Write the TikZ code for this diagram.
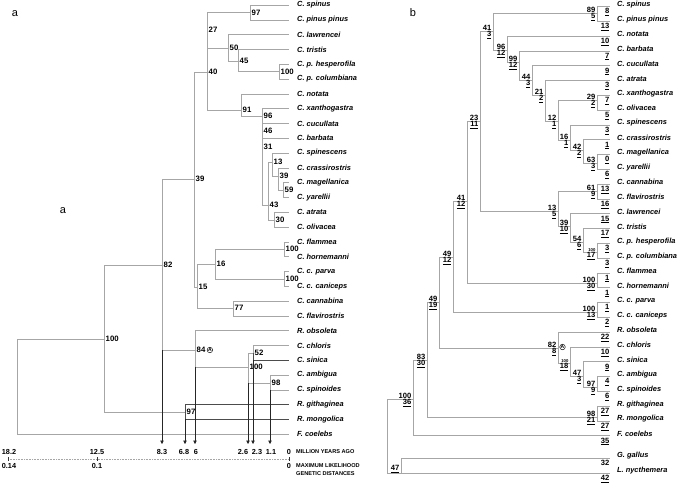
\documentclass[tikz,border=0pt]{standalone}
\usepackage{fontspec}
\setmainfont{Liberation Sans}
\usetikzlibrary{arrows.meta}
\newcommand\taxfont{\fontsize{7.4}{8}\selectfont\bfseries\itshape}
\newcommand\bsfont{\fontsize{7.6}{8}\selectfont\bfseries}
\tikzset{
  branch/.style={draw=gray!70, line width=0.6pt},
  darkbranch/.style={draw=black!70, line width=0.6pt},
  taxon/.style={anchor=west, inner sep=0pt, font=\taxfont},
  bsa/.style={anchor=west, inner sep=0.5pt, font=\fontsize{7.8}{8}\selectfont\bfseries},
  bstop/.style={anchor=south east, inner sep=0.4pt, font=\bsfont},
  bsbot/.style={anchor=north east, inner sep=0.4pt, font=\bsfont},
  blen/.style={anchor=north east, inner sep=0.4pt, font=\bsfont},
  tinynum/.style={anchor=south east, inner sep=0.4pt, font=\fontsize{4.2}{4}\selectfont\bfseries},
  circA/.style={circle, draw, anchor=west, line width=0.45pt, inner sep=0.2pt, font=\fontsize{5}{5}\selectfont\bfseries},
  timearrow/.style={draw=black!85, line width=0.6pt, -{Triangle[length=3.5pt,width=3.5pt]}},
  axislbl/.style={inner sep=0.5pt, font=\fontsize{7.3}{8}\selectfont\bfseries},
  axisname/.style={anchor=west, inner sep=0pt, font=\fontsize{5.6}{6}\selectfont\bfseries},
  axisline/.style={draw=gray!70, densely dotted, line width=0.6pt},
  axtick/.style={draw=black!80, line width=0.5pt},
  panel/.style={inner sep=0pt, font=\fontsize{11}{12}\selectfont},
}

\begin{document}
\begin{tikzpicture}[x=1pt,y=-1pt]
  \useasboundingbox (0,0) rectangle (685,482);

  % Panel letters
  \node[panel] (pa) at (15,14) {a};
  \node[panel] (pam) at (63,211) {a};
  \node[panel] (pb) at (413,13) {b};

  % ===== Tree a =====
  % Taxa
  \foreach \nm [count=\i from 0] in {C. spinus, C. pinus pinus, C. lawrencei, C. tristis,
      C. p. hesperofila, C. p. columbiana, C. notata, C. xanthogastra, C. cucullata,
      C. barbata, C. spinescens, C. crassirostris, C. magellanica, C. yarellii, C. atrata,
      C. olivacea, C. flammea, C. hornemanni, C. c. parva, C. c. caniceps, C. cannabina,
      C. flavirostris, R. obsoleta, C. chloris, C. sinica, C. ambigua, C. spinoides,
      R. githaginea, R. mongolica, F. coelebs}{
    \node[taxon] (spa\i) at (297,5+14.8*\i) {\nm};
    \coordinate (ta\i) at ([xshift=-8pt]spa\i.west);
  }

  % Internal nodes
  \coordinate (a97) at (250,12.4);
  \coordinate (a100p) at (279,71.6);
  \coordinate (a45) at (238,61);
  \coordinate (a50) at (228,48);
  \coordinate (a27) at (207,30);
  \coordinate (a40) at (207,72);
  \coordinate (a91) at (241,110);
  \coordinate (a96) at (262,116);
  \coordinate (a46) at (262,131);
  \coordinate (a31) at (262,147);
  \coordinate (a43) at (268,205);
  \coordinate (a13) at (272,162);
  \coordinate (a39) at (278,176);
  \coordinate (a59) at (283,190);
  \coordinate (a30) at (274,220);
  \coordinate (a100f) at (284,249);
  \coordinate (a100c) at (284,279);
  \coordinate (a16) at (215,264);
  \coordinate (a77) at (233,308);
  \coordinate (a15) at (197,287);
  \coordinate (a39b) at (194,179);
  \coordinate (a52) at (253,353);
  \coordinate (a98) at (270,383);
  \coordinate (a100d) at (248,367);
  \coordinate (a84) at (195,350);
  \coordinate (a82) at (162,265);
  \coordinate (a97b) at (185,412);
  \coordinate (a100) at (104,339);
  \coordinate (aroot) at (17,387);

  % Branches
  \foreach \p/\c in {a97/ta0, a97/ta1, a100p/ta4, a100p/ta5, a45/ta3, a45/a100p,
      a50/ta2, a50/a45, a27/a97, a27/a50, a40/a27, a40/a91, a91/ta6, a91/a96,
      a96/ta7, a96/a46, a46/ta8, a46/a31, a31/ta9, a31/a43, a43/a13, a43/a30,
      a13/ta10, a13/a39, a39/ta11, a39/a59, a59/ta12, a59/ta13, a30/ta14, a30/ta15,
      a100f/ta16, a100f/ta17, a100c/ta18, a100c/ta19, a16/a100f, a16/a100c,
      a77/ta20, a77/ta21, a15/a16, a15/a77, a39b/a40, a39b/a15, a52/ta23,
      a100d/a52, a100d/a98, a98/ta25, a98/ta26, a84/ta22, a84/a100d,
      a82/a39b, a82/a84, a100/a82, a100/a97b, aroot/a100, aroot/ta29}
    \draw[branch] (\p) |- (\c);
  \foreach \p/\c in {a52/ta24, a97b/ta27, a97b/ta28}
    \draw[darkbranch] (\p) |- (\c);

  % Bootstrap values
  \foreach \n/\t in {a97/97, a100p/100, a45/45, a50/50, a27/27, a40/40, a91/91,
      a96/96, a46/46, a31/31, a43/43, a13/13, a39/39, a59/59, a30/30, a100f/100,
      a100c/100, a16/16, a77/77, a15/15, a39b/39, a52/52, a98/98, a100d/100,
      a84/84, a82/82, a97b/97, a100/100}
    \node[bsa] (lab\n) at ([xshift=1pt]\n) {\t};
  \node[circA] (caa) at ([xshift=0.8pt]laba84.east) {A};

  % Dating arrows
  \coordinate (tipy) at (0,444);
  \draw[timearrow] (a82 |- a84) -- (a82 |- tipy);
  \draw[timearrow] (a97b |- ta28) -- (a97b |- tipy);
  \draw[timearrow] (a84 |- a100d) -- (a84 |- tipy);
  \draw[timearrow] (a100d |- a98) -- (a100d |- tipy);
  \draw[timearrow] (a52 |- ta24) -- (a52 |- tipy);
  \draw[timearrow] (a98 |- ta26) -- (a98 |- tipy);

  % Time / distance scale
  \coordinate (axl) at (8,459);
  \coordinate (axm) at (97,459);
  \coordinate (axr) at (289,459);
  \draw[axisline] (axl) -- (axr);
  \foreach \c in {axl, axm, axr}
    \draw[axtick] ([yshift=2pt]\c) -- ([yshift=-2pt]\c);
  \node[axislbl] (t182) at (9,452) {18.2};
  \node[axislbl] (t125) at (97,452) {12.5};
  \node[axislbl] (t83) at (162,452) {8.3};
  \node[axislbl] (t68) at (184,452) {6.8};
  \node[axislbl] (t6) at (196,452) {6};
  \node[axislbl] (t26) at (243,452) {2.6};
  \node[axislbl] (t23) at (257,452) {2.3};
  \node[axislbl] (t11) at (271,452) {1.1};
  \node[axislbl] (t0) at (289,452) {0};
  \node[axislbl] (d014) at (9,466) {0.14};
  \node[axislbl] (d01) at (97,466) {0.1};
  \node[axislbl] (d0) at (289,466) {0};
  \node[axisname] (myr) at (296,452) {MILLION YEARS AGO};
  \node[axisname] (mlk) at (296,466) {MAXIMUM LIKELIHOOD};
  \node[axisname] (gdi) at (296,474) {GENETIC DISTANCES};

  % ===== Tree b =====
  % Taxa with branch lengths
  \foreach \nm/\bl [count=\i from 0] in {C. spinus/8, C. pinus pinus/13, C. notata/10,
      C. barbata/7, C. cucullata/9, C. atrata/3, C. xanthogastra/7, C. olivacea/5,
      C. spinescens/3, C. crassirostris/1, C. magellanica/0, C. yarellii/6,
      C. cannabina/13, C. flavirostris/16, C. lawrencei/15, C. tristis/17,
      C. p. hesperofila/3, C. p. columbiana/3, C. flammea/1, C. hornemanni/1,
      C. c. parva/1, C. c. caniceps/2, R. obsoleta/22, C. chloris/10, C. sinica/9,
      C. ambigua/4, C. spinoides/6, R. githaginea/27, R. mongolica/27, F. coelebs/35}{
    \node[taxon] (spb\i) at (617,4.5+14.8*\i) {\nm};
    \coordinate (tb\i) at ([xshift=-7pt,yshift=-2pt]spb\i.west);
    \node[blen] (nb\i) at ([xshift=-7pt,yshift=-3.5pt]spb\i.west) {\underline{\bl}};
  }
  \node[taxon] (spbg) at (617,456) {G. gallus};
  \coordinate (tbg) at ([xshift=-7pt,yshift=-2pt]spbg.west);
  \node[blen] (nbg) at ([xshift=-7pt,yshift=-3.5pt]spbg.west) {32};
  \node[taxon] (spbn) at (617,471) {L. nycthemera};
  \coordinate (tbn) at ([xshift=-7pt,yshift=-2pt]spbn.west);
  \node[blen] (nbn) at ([xshift=-7pt,yshift=-3.5pt]spbn.west) {\underline{42}};

  % Internal nodes
  \coordinate (b89) at (597,13);
  \coordinate (b41a) at (493,31);
  \coordinate (b96) at (507,50);
  \coordinate (b99) at (519,62);
  \coordinate (b44) at (532,80);
  \coordinate (b21) at (545,95);
  \coordinate (b12) at (558,121);
  \coordinate (b29) at (597,100);
  \coordinate (b16) at (570,140);
  \coordinate (b42) at (583,150);
  \coordinate (b63) at (597,163);
  \coordinate (b23) at (480,121);
  \coordinate (b61) at (597,191);
  \coordinate (b13) at (558,211);
  \coordinate (b39) at (570,226);
  \coordinate (b54) at (583,242);
  \coordinate (b100h) at (597,252);
  \coordinate (b41b) at (467,201);
  \coordinate (b100f) at (597,283);
  \coordinate (b49a) at (453,257);
  \coordinate (b100p) at (597,312);
  \coordinate (b49b) at (439,302);
  \coordinate (b82) at (558,348);
  \coordinate (b100c) at (570,363);
  \coordinate (b47) at (583,376);
  \coordinate (b97) at (597,387);
  \coordinate (b98) at (597,417);
  \coordinate (b83) at (427,360);
  \coordinate (b100r) at (413,399);
  \coordinate (bout) at (401,473);
  \coordinate (broot) at (387,399);

  % Branches
  \foreach \p/\c in {b89/tb0, b89/tb1, b41a/b89, b41a/b96, b96/tb2, b96/b99,
      b99/tb3, b99/b44, b44/tb4, b44/b21, b21/tb5, b21/b12, b12/b29, b12/b16,
      b29/tb6, b29/tb7, b16/tb8, b16/b42, b42/tb9, b42/b63, b63/tb10, b63/tb11,
      b23/b41a, b23/b13, b13/b61, b13/b39, b61/tb12, b61/tb13, b39/tb14, b39/b54,
      b54/tb15, b54/b100h, b100h/tb16, b100h/tb17, b41b/b23, b41b/b100f,
      b100f/tb18, b100f/tb19, b49a/b41b, b49a/b100p, b100p/tb20, b100p/tb21,
      b49b/b49a, b49b/b82, b82/tb22, b82/b100c, b100c/tb23, b100c/b47, b47/tb24,
      b47/b97, b97/tb25, b97/tb26, b83/b49b, b83/b98, b98/tb27, b98/tb28,
      b100r/b83, b100r/tb29, broot/b100r, broot/bout, bout/tbg, bout/tbn}
    \draw[branch] (\p) |- (\c);

  % Bootstrap (top) and branch length (bottom)
  \foreach \n/\t/\u in {b89/89/5, b41a/41/3, b96/96/12, b99/99/12, b44/44/3,
      b21/21/2, b12/12/1, b29/29/2, b16/16/1, b42/42/2, b63/63/3, b23/23/11,
      b61/61/9, b13/13/5, b39/39/10, b54/54/6, b41b/41/12, b100f/100/30,
      b49a/49/12, b100p/100/13, b49b/49/19, b82/82/8, b47/47/3, b97/97/9,
      b98/98/21, b83/83/30, b100r/100/36}{
    \node[bstop] (tp\n) at ([xshift=-1pt]\n) {\t};
    \node[bsbot] (bt\n) at ([xshift=-1pt]\n) {\underline{\u}};
  }
  \node[tinynum] (tpb100h) at ([xshift=-1pt]b100h) {100};
  \node[bsbot] (btb100h) at ([xshift=-1pt]b100h) {\underline{17}};
  \node[tinynum] (tpb100c) at ([xshift=-1pt]b100c) {100};
  \node[bsbot] (btb100c) at ([xshift=-1pt]b100c) {\underline{18}};
  \node[bstop] (tpbout) at ([xshift=-1pt]bout) {\underline{47}};
  \node[circA] (cab) at ([xshift=1.5pt,yshift=1pt]b82) {A};
\end{tikzpicture}
\end{document}
